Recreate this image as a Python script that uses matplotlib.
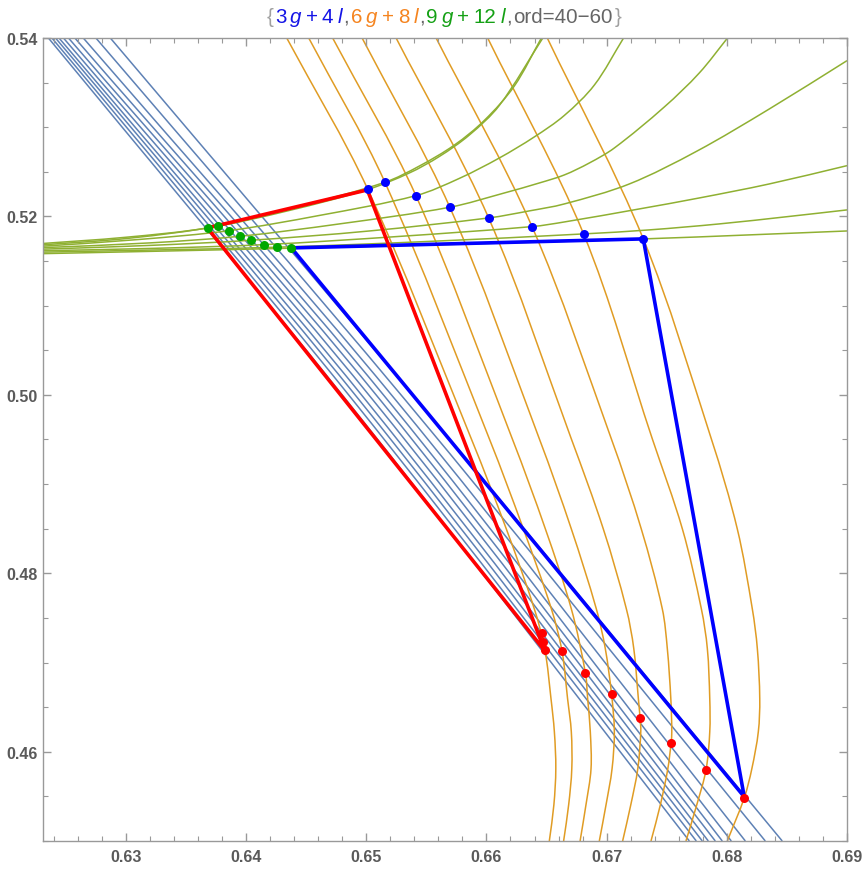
import numpy as np
import matplotlib
matplotlib.use("Agg")
import matplotlib.pyplot as plt
from matplotlib.path import Path
from matplotlib.patches import PathPatch
from matplotlib.offsetbox import TextArea, HPacker, AnnotationBbox
from matplotlib.ticker import MultipleLocator, FormatStrFormatter

plt.rcParams['font.family'] = ['Liberation Sans', 'DejaVu Sans']
plt.rcParams['font.weight'] = 'bold'

# 3g+4l family: x where each line crosses y = 0.54, 0.49955 and 0.45
line_y = [0.5400, 0.49955, 0.4500]
line_x_top = [0.62355, 0.62384, 0.62414, 0.62443, 0.62480, 0.62522, 0.62575, 0.62645, 0.62750, 0.62870]
line_x_mid = [0.64826, 0.64880, 0.64934, 0.64987, 0.65048, 0.65109, 0.65170, 0.65237, 0.65317, 0.65413]
line_x_bot = [0.67688, 0.67746, 0.67796, 0.67846, 0.67904, 0.67962, 0.68037, 0.68154, 0.68320, 0.68461]

# 6g+8l family (one list per curve)
orange_x = [
    [0.64338, 0.65013, 0.65874, 0.66165, 0.66398, 0.66487, 0.66537, 0.66565, 0.66577, 0.66561, 0.66523],
    [0.64521, 0.65155, 0.66024, 0.66307, 0.66540, 0.66629, 0.66675, 0.66706, 0.66710, 0.66684, 0.66642],
    [0.64720, 0.65413, 0.66215, 0.66490, 0.66706, 0.66823, 0.66842, 0.66864, 0.66870, 0.66828, 0.66779],
    [0.64965, 0.65695, 0.66440, 0.66706, 0.66914, 0.66989, 0.67041, 0.67064, 0.67045, 0.66995, 0.66939],
    [0.65248, 0.66018, 0.66706, 0.66972, 0.67164, 0.67226, 0.67264, 0.67278, 0.67284, 0.67259, 0.67201, 0.67133],
    [0.65581, 0.66379, 0.67039, 0.67288, 0.67463, 0.67505, 0.67534, 0.67542, 0.67536, 0.67509, 0.67447, 0.67369],
    [0.66010, 0.66808, 0.67380, 0.67630, 0.67788, 0.67838, 0.67858, 0.67858, 0.67827, 0.67750, 0.67660],
    [0.66506, 0.67305, 0.67871, 0.68087, 0.68212, 0.68254, 0.68274, 0.68262, 0.68208, 0.68145, 0.68004],
]
orange_y = [
    [0.5400, 0.52302, 0.49507, 0.48498, 0.47602, 0.47135, 0.46594, 0.46224, 0.45809, 0.45406, 0.4500],
    [0.5400, 0.52383, 0.49507, 0.48498, 0.47602, 0.47124, 0.46594, 0.46224, 0.45809, 0.45406, 0.4500],
    [0.5400, 0.52233, 0.49507, 0.48498, 0.47602, 0.46885, 0.46594, 0.46224, 0.45809, 0.45406, 0.4500],
    [0.5400, 0.52103, 0.49507, 0.48498, 0.47602, 0.47154, 0.46642, 0.46224, 0.45809, 0.45406, 0.4500],
    [0.5400, 0.51983, 0.49507, 0.48498, 0.47602, 0.47154, 0.46594, 0.46381, 0.46224, 0.45809, 0.45406, 0.4500],
    [0.5400, 0.51886, 0.49507, 0.48498, 0.47602, 0.47154, 0.46594, 0.46224, 0.46097, 0.45809, 0.45406, 0.4500],
    [0.5400, 0.51804, 0.49507, 0.48498, 0.47602, 0.47154, 0.46594, 0.46224, 0.45798, 0.45406, 0.4500],
    [0.5400, 0.51748, 0.49507, 0.48498, 0.47602, 0.47154, 0.46594, 0.46224, 0.45809, 0.45484, 0.4500],
]

# 9g+12l family
green_x = [
    [0.6228, 0.62988, 0.63681, 0.64360, 0.65013, 0.65358, 0.65608, 0.65858, 0.66107, 0.66469],
    [0.6228, 0.63029, 0.63770, 0.64443, 0.65155, 0.65442, 0.65733, 0.65982, 0.66232, 0.66457],
    [0.6228, 0.63112, 0.63861, 0.64610, 0.65413, 0.65774, 0.66107, 0.66398, 0.66648, 0.66898, 0.67141],
    [0.6228, 0.63196, 0.63953, 0.64776, 0.65695, 0.66149, 0.66440, 0.66648, 0.66856, 0.67064, 0.67480, 0.67771, 0.68006],
    [0.6228, 0.63196, 0.64042, 0.65026, 0.66018, 0.66357, 0.66648, 0.67189, 0.67754, 0.68353, 0.6900],
    [0.6228, 0.63196, 0.64152, 0.65275, 0.66379, 0.66648, 0.67272, 0.67771, 0.68353, 0.6900],
    [0.6228, 0.63279, 0.64258, 0.65525, 0.66808, 0.67355, 0.67937, 0.68520, 0.6900],
    [0.6228, 0.63362, 0.64374, 0.65858, 0.67305, 0.68187, 0.6900],
]
green_y = [
    [0.51694, 0.51765, 0.51871, 0.52067, 0.52302, 0.52487, 0.52672, 0.52913, 0.53244, 0.5400],
    [0.51679, 0.51756, 0.51893, 0.52112, 0.52383, 0.52565, 0.52800, 0.53076, 0.53462, 0.5400],
    [0.51664, 0.51742, 0.51841, 0.52011, 0.52233, 0.52426, 0.52655, 0.52891, 0.53132, 0.53473, 0.5400],
    [0.51649, 0.51703, 0.51778, 0.51916, 0.52103, 0.52263, 0.52375, 0.52465, 0.52599, 0.52767, 0.53227, 0.53608, 0.5400],
    [0.51632, 0.51675, 0.51733, 0.51837, 0.51983, 0.52062, 0.52140, 0.52364, 0.52734, 0.53204, 0.53746],
    [0.51615, 0.51641, 0.51684, 0.51776, 0.51886, 0.51938, 0.52084, 0.52207, 0.52364, 0.52569],
    [0.51599, 0.51625, 0.51655, 0.51720, 0.51804, 0.51849, 0.51916, 0.52000, 0.52073],
    [0.51582, 0.51613, 0.51644, 0.51692, 0.51748, 0.51793, 0.51837],
]

# triangles for ord=40 (red) and ord=60 (blue)
red_tri_x = [0.63678, 0.65009, 0.66486]
red_tri_y = [0.51871, 0.52297, 0.47131]
blue_tri_x = [0.64377, 0.67305, 0.68145]
blue_tri_y = [0.51647, 0.51748, 0.45495]

# intersection points
blue_pts_x = [0.65013, 0.65155, 0.65413, 0.65695, 0.66018, 0.66379, 0.66808, 0.67305]
blue_pts_y = [0.52302, 0.52383, 0.52233, 0.52103, 0.51983, 0.51886, 0.51804, 0.51748]
red_pts_x = [0.66465, 0.66473, 0.66487, 0.66629, 0.66823, 0.67041, 0.67278, 0.67536, 0.67827, 0.68145]
red_pts_y = [0.47333, 0.47232, 0.47135, 0.47124, 0.46885, 0.46642, 0.46381, 0.46097, 0.45798, 0.45484]
green_pts_x = [0.63681, 0.63770, 0.63861, 0.63953, 0.64042, 0.64152, 0.64258, 0.64374]
green_pts_y = [0.51871, 0.51893, 0.51841, 0.51778, 0.51733, 0.51684, 0.51655, 0.51644]


def smooth_path(xs, ys):
    # cubic Hermite through the read points, chord-length tangents
    p = np.column_stack([xs, ys]).astype(float)
    q = p / np.array([0.067, 0.09])
    t = np.concatenate([[0.0], np.cumsum(np.hypot(*np.diff(q, axis=0).T))])
    tang = np.empty_like(p)
    tang[0] = (p[1] - p[0]) / (t[1] - t[0])
    tang[-1] = (p[-1] - p[-2]) / (t[-1] - t[-2])
    for i in range(1, len(p) - 1):
        tang[i] = (p[i + 1] - p[i - 1]) / (t[i + 1] - t[i - 1])
    verts, codes = [p[0]], [Path.MOVETO]
    for i in range(len(p) - 1):
        h = t[i + 1] - t[i]
        verts += [p[i] + tang[i] * h / 3, p[i + 1] - tang[i + 1] * h / 3, p[i + 1]]
        codes += [Path.CURVE4] * 3
    return Path(verts, codes)


def curve(ax, xs, ys, color):
    ax.add_patch(PathPatch(smooth_path(xs, ys), fill=False, edgecolor=color,
                           lw=1.1, zorder=1, capstyle='butt'))


fig = plt.figure(figsize=(8.65, 8.70), dpi=100)
ax = fig.add_axes([0.0497, 0.0322, 0.9295, 0.923])

for xt, xm, xb in zip(line_x_top, line_x_mid, line_x_bot):
    curve(ax, [xt, xm, xb], line_y, '#5E81B5')
for xs, ys in zip(orange_x, orange_y):
    curve(ax, xs, ys, '#E09C24')
for xs, ys in zip(green_x, green_y):
    curve(ax, xs, ys, '#8FB032')

ax.fill(blue_tri_x, blue_tri_y, fill=False, edgecolor='#0000FF', lw=2.6, zorder=3)
ax.fill(red_tri_x, red_tri_y, fill=False, edgecolor='#FF0000', lw=2.6, zorder=3)

ax.plot(blue_pts_x, blue_pts_y, 'o', color='#0000FF', ms=6.5, mew=0, zorder=4)
ax.plot(red_pts_x, red_pts_y, 'o', color='#FF0000', ms=6.5, mew=0, zorder=4)
ax.plot(green_pts_x, green_pts_y, 'o', color='#00A800', ms=6.5, mew=0, zorder=4)

ax.set_xlim(0.6231, 0.69)
ax.set_ylim(0.45, 0.54)
ax.xaxis.set_major_locator(MultipleLocator(0.01))
ax.xaxis.set_minor_locator(MultipleLocator(0.002))
ax.yaxis.set_major_locator(MultipleLocator(0.02))
ax.yaxis.set_minor_locator(MultipleLocator(0.005))
ax.xaxis.set_major_formatter(FormatStrFormatter('%.2f'))
ax.yaxis.set_major_formatter(FormatStrFormatter('%.2f'))
ax.tick_params(which='both', direction='in', top=True, right=True,
               color='#999999', labelcolor='#5a5a5a', labelsize=11.5)
ax.tick_params(which='major', length=6, width=1)
ax.tick_params(which='minor', length=3.5, width=0.8)
ax.tick_params(axis='x', pad=6)
ax.tick_params(axis='y', pad=4)
for s in ax.spines.values():
    s.set_color('#999999')
    s.set_linewidth(1)


# multi-coloured title
def piece(text, color, italic=False):
    return TextArea(text, textprops=dict(color=color, fontsize=14.8,
                                         fontstyle='italic' if italic else 'normal',
                                         fontweight='normal'))


def group(parts, color):
    kids = [piece(t, color, it) for t, it in parts]
    return HPacker(children=kids, sep=3, pad=0, align='baseline')


c_blue, c_orange, c_green, c_gray, c_brace = '#1414E6', '#F5841F', '#14A014', '#666666', '#A0A0A0'
g1 = group([('3', False), ('g', True), ('+', False), ('4', False), ('l', True)], c_blue)
g2 = group([('6', False), ('g', True), ('+', False), ('8', False), ('l', True)], c_orange)
g3 = group([('9', False), ('g', True), ('+', False), ('12', False), ('l', True)], c_green)
title = HPacker(children=[piece('{', c_brace), g1, piece(',', c_gray), g2, piece(',', c_gray),
                          g3, piece(',', c_gray), piece('ord=40\u221260', c_gray), piece('}', c_brace)],
                sep=1, pad=0, align='baseline')
ab = AnnotationBbox(title, (0.513, 0.980), xycoords='figure fraction',
                    frameon=False, box_alignment=(0.5, 0.5), pad=0)
fig.add_artist(ab)

fig.savefig('out.png', dpi=100)
